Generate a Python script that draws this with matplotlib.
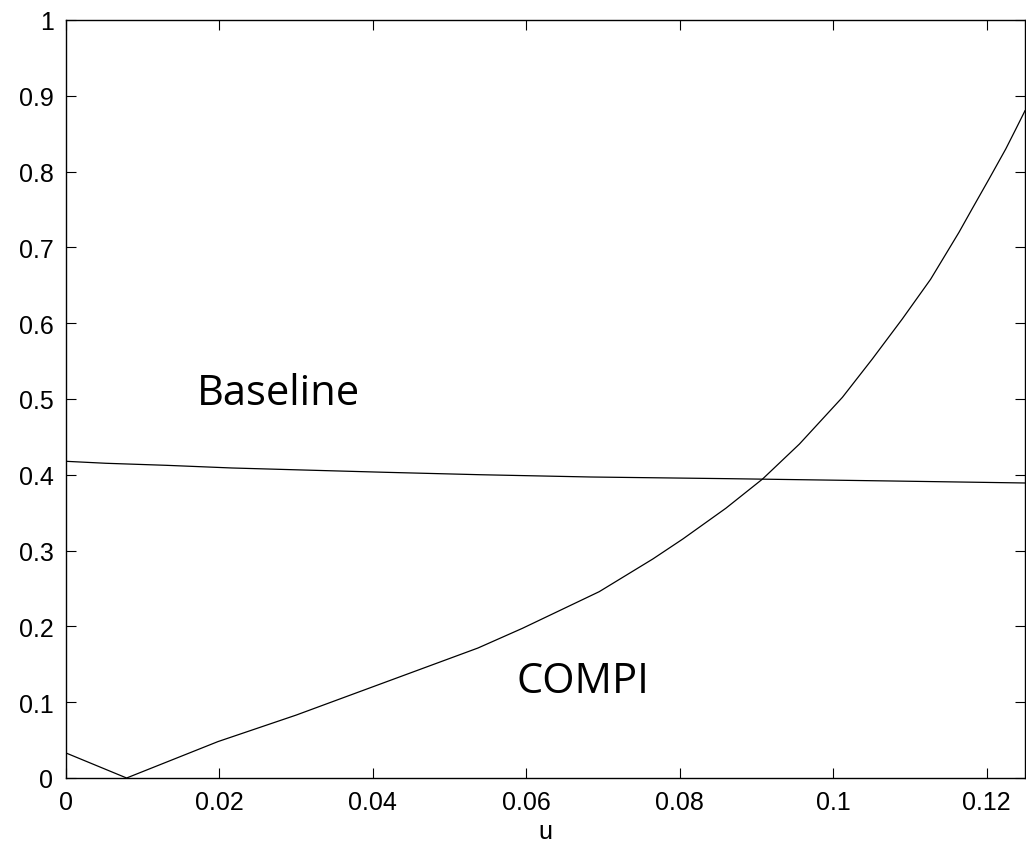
import numpy as np
import matplotlib
matplotlib.use("Agg")
from matplotlib import pyplot as plt

# COMPI curve
compi_u = [0.0, 0.0079, 0.0198, 0.0300, 0.0398, 0.0537, 0.0595, 0.0695, 0.0765,
           0.0804, 0.0860, 0.0908, 0.0956, 0.1012, 0.1051, 0.1090,
           0.1127, 0.1164, 0.1181, 0.1203, 0.1225, 0.1238, 0.1250]
compi_y = [0.033, 0.0, 0.048, 0.083, 0.1196, 0.1715, 0.1975, 0.2458, 0.289,
           0.3153, 0.3558, 0.3945, 0.4406, 0.5022, 0.5528, 0.6055,
           0.658, 0.720, 0.7507, 0.790, 0.830, 0.856, 0.8803]

# Baseline curve
base_u = [0.0, 0.0052, 0.0131, 0.0216, 0.0310, 0.0416, 0.0540, 0.0684,
          0.0863, 0.1078, 0.1250]
base_y = [0.4178, 0.4152, 0.4125, 0.4090, 0.4063, 0.4033, 0.4001, 0.3971,
          0.3949, 0.3918, 0.3892]

xticks = [0, 0.02, 0.04, 0.06, 0.08, 0.1, 0.12]
xtick_labels = ["0", "0.02", "0.04", "0.06", "0.08", "0.1", "0.12"]
yticks = [0, 0.1, 0.2, 0.3, 0.4, 0.5, 0.6, 0.7, 0.8, 0.9, 1]
ytick_labels = ["0", "0.1", "0.2", "0.3", "0.4", "0.5", "0.6", "0.7", "0.8", "0.9", "1"]

plt.rcParams['font.family'] = ['Liberation Sans', 'DejaVu Sans']

fig = plt.figure(figsize=(10.26, 8.53), dpi=100)
ax = fig.add_axes([66/1026, 74/853, 959/1026, 758/853])

ax.plot(compi_u, compi_y, color='black', linewidth=0.9)
ax.plot(base_u, base_y, color='black', linewidth=0.9)

ax.set_xlim(0, 0.125)
ax.set_ylim(0, 1)
ax.set_xticks(xticks)
ax.set_xticklabels(xtick_labels)
ax.set_yticks(yticks)
ax.set_yticklabels(ytick_labels)
ax.tick_params(direction='in', length=7.5, width=0.8, labelsize=18,
               top=True, right=True, pad=9)
ax.tick_params(axis='x', pad=9)
for s in ax.spines.values():
    s.set_linewidth(1.0)

ax.set_xlabel("u", fontsize=18, labelpad=3)

ax.text(0.01706, 0.4934, "Baseline", fontsize=30, family=['Open Sans', 'DejaVu Sans'])
ax.text(0.0587, 0.1135, "COMPI", fontsize=30, family=['Open Sans', 'DejaVu Sans'])

fig.savefig("out.png", dpi=100)
